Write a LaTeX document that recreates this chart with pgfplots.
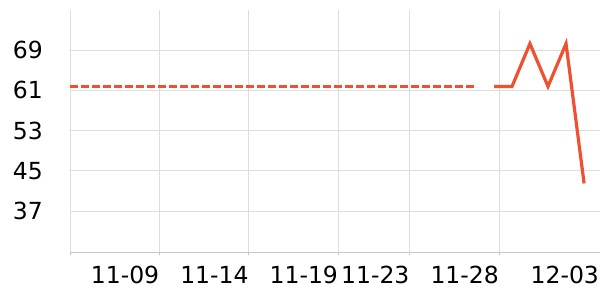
\documentclass[border=0pt]{standalone}
\usepackage{pgfplots}
\pgfplotsset{compat=1.18}
\usepackage{fontspec}
\setmainfont{DejaVu Sans}
\definecolor{lc}{RGB}{238,80,48}
\definecolor{gridc}{RGB}{221,221,221}
\definecolor{axc}{RGB}{200,200,200}
\begin{document}
\begin{tikzpicture}
\path[use as bounding box] (-70bp,-48bp) rectangle (530bp,252.3bp);
\begin{axis}[
  at={(0,0)}, anchor=south west, scale only axis,
  width=530bp, height=242.3bp,
  xmin=0, xmax=29.65, ymin=28.8, ymax=77,
  axis lines*=left,
  x axis line style={axc, line width=0.8bp},
  y axis line style={draw=none},
  ytick={37,45,53,61,69},
  xtick={0,5,10,15,19,24},
  xticklabels={,11-09,11-14,11-19,11-23,11-28},
  extra x ticks={29.6},
  extra x tick labels={12-03},
  extra x tick style={grid=none, tick style={draw=none}},
  grid=major,
  major grid style={gridc, line width=0.8bp},
  xtick align=outside,
  major tick length=3bp,
  xtick style={axc, line width=0.8bp},
  ytick style={draw=none},
  tick label style={font=\fontsize{23.5bp}{28bp}\selectfont, inner sep=0pt},
  xticklabel style={anchor=base east, yshift=-28bp},
  yticklabel style={anchor=east, xshift=-27bp},
  /pgf/number format/assume math mode=true,
]
\addplot[lc, line width=3.2bp, mark=none, dash pattern=on 8bp off 3bp] coordinates {(0,61.8) (22.75,61.8)};
\addplot[lc, line width=3.2bp, mark=none] coordinates {(23.72,61.8) (24.73,61.8) (25.73,70.3) (26.74,61.8) (27.75,70.3) (28.76,42.5)};
\end{axis}
\end{tikzpicture}
\end{document}
